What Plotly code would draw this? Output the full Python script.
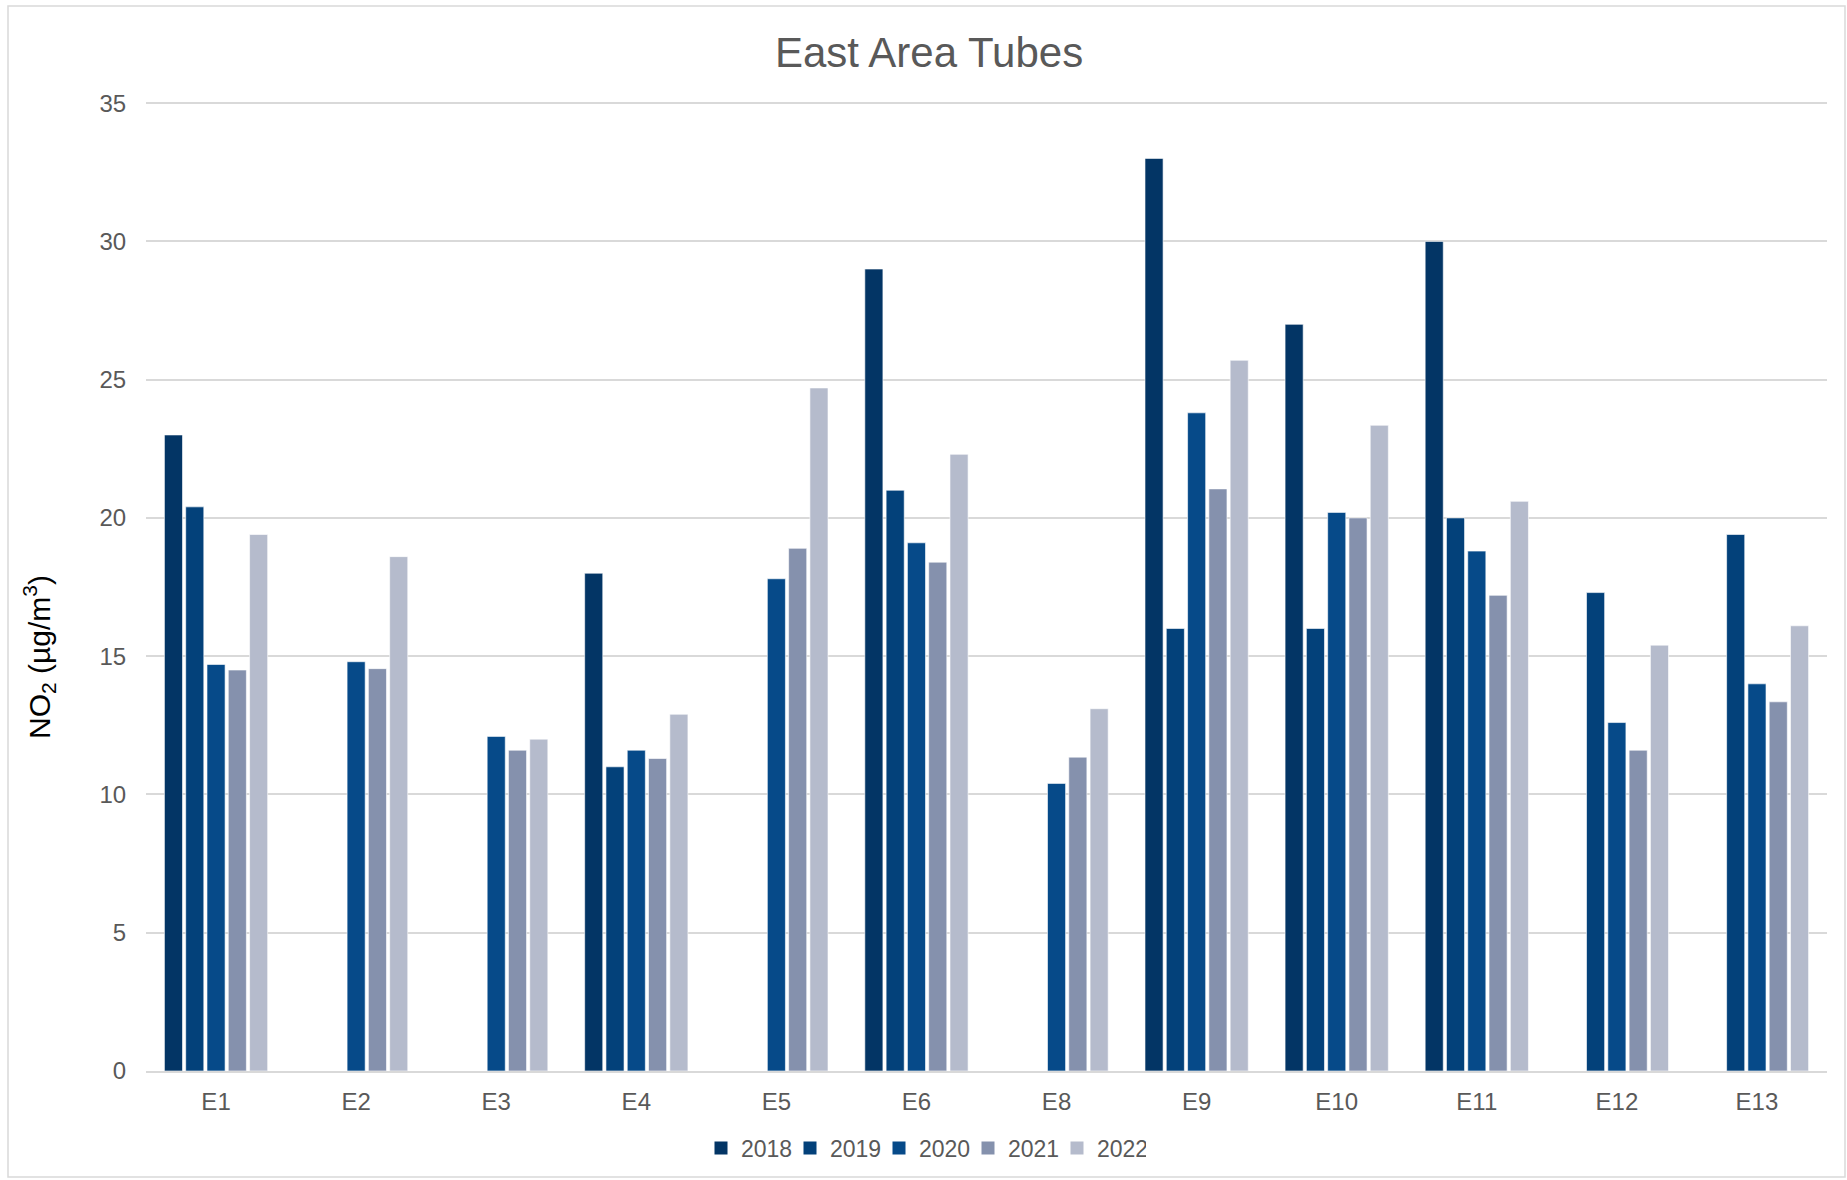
import plotly.graph_objects as go

sites = ["E1", "E2", "E3", "E4", "E5", "E6", "E8", "E9", "E10", "E11", "E12", "E13"]
years = ["2018", "2019", "2020", "2021", "2022"]

v2018 = [23.0, None, None, 18.0, None, 29.0, None, 33.0, 27.0, 30.0, None, None]
v2019 = [20.4, None, None, 11.0, None, 21.0, None, 16.0, 16.0, 20.0, 17.3, 19.4]
v2020 = [14.7, 14.8, 12.1, 11.6, 17.8, 19.1, 10.4, 23.8, 20.2, 18.8, 12.6, 14.0]
v2021 = [14.5, 14.55, 11.6, 11.3, 18.9, 18.4, 11.35, 21.05, 20.0, 17.2, 11.6, 13.35]
v2022 = [19.4, 18.6, 12.0, 12.9, 24.7, 22.3, 13.1, 25.7, 23.35, 20.6, 15.4, 16.1]

colors = ["#033565", "#03417a", "#064a89", "#8591ad", "#b5bbcc"]
series = [v2018, v2019, v2020, v2021, v2022]

W, H = 1847, 1180
ML, MR, MT, MB = 146, 20, 102, 109
PW = W - ML - MR
PH = H - MT - MB

fig = go.Figure()
for name, vals, col in zip(years, series, colors):
    fig.add_trace(go.Bar(
        x=sites, y=vals, name=name, legendgroup=name, showlegend=False,
        marker=dict(color=col, line=dict(color="rgba(255,255,255,0.6)", width=1)),
    ))
# legend entries with larger square keys
for name, col in zip(years, colors):
    fig.add_trace(go.Scatter(
        x=[None], y=[None], mode="markers", name=name, legendgroup=name,
        marker=dict(symbol="square", size=13, color=col),
        showlegend=True, hoverinfo="skip",
    ))

font = "Liberation Sans, Arial, sans-serif"
fig.update_layout(
    width=W, height=H,
    margin=dict(l=ML, r=MR, t=MT, b=MB, autoexpand=False),
    paper_bgcolor="white", plot_bgcolor="white",
    barmode="group", bargap=0.24, bargroupgap=0.15,
    font=dict(family=font, color="#595959"),
    title=dict(text="East Area Tubes", font=dict(size=42, color="#595959", family=font),
               x=0.503, xref="container", xanchor="center",
               y=1 - 52 / H, yref="container", yanchor="middle"),
    legend=dict(orientation="h", xref="container", x=0.5, xanchor="center",
                yref="container", y=1 - 1148 / H, yanchor="middle",
                font=dict(size=23, color="#595959"), itemwidth=30,
                entrywidth=44, entrywidthmode="pixels",
                traceorder="normal", itemsizing="trace"),
    showlegend=True,
)
fig.update_yaxes(range=[0, 35.04], tick0=0, dtick=5, showgrid=True, gridcolor="#d9d9d9", gridwidth=1.5,
                 zeroline=False, showline=False, ticks="outside", ticklen=14,
                 tickcolor="rgba(0,0,0,0)", tickfont=dict(size=24, color="#595959"))
fig.update_xaxes(showline=True, linecolor="#d9d9d9", linewidth=1.5, showgrid=False,
                 ticks="outside", ticklen=8, tickcolor="rgba(0,0,0,0)",
                 tickfont=dict(size=24, color="#595959"))

fig.add_annotation(
    text="NO<sub>2</sub> (µg/m<sup>3</sup>)", textangle=-90,
    xref="paper", yref="paper",
    x=(39 - ML) / PW, y=(H - MB - 657) / PH,
    xanchor="center", yanchor="middle", showarrow=False,
    font=dict(size=30, color="#000000", family=font),
)

fig.add_shape(type="rect", xref="paper", yref="paper",
              x0=(8 - ML) / PW, x1=(1845 - ML) / PW,
              y0=(H - MB - 1177) / PH, y1=(H - MB - 6) / PH,
              line=dict(color="#d9d9d9", width=1.5), fillcolor="rgba(0,0,0,0)", layer="below")

fig.write_html("out.html", config={"displayModeBar": False},
               post_script="document.body.style.margin='0';document.body.style.overflow='hidden';")
